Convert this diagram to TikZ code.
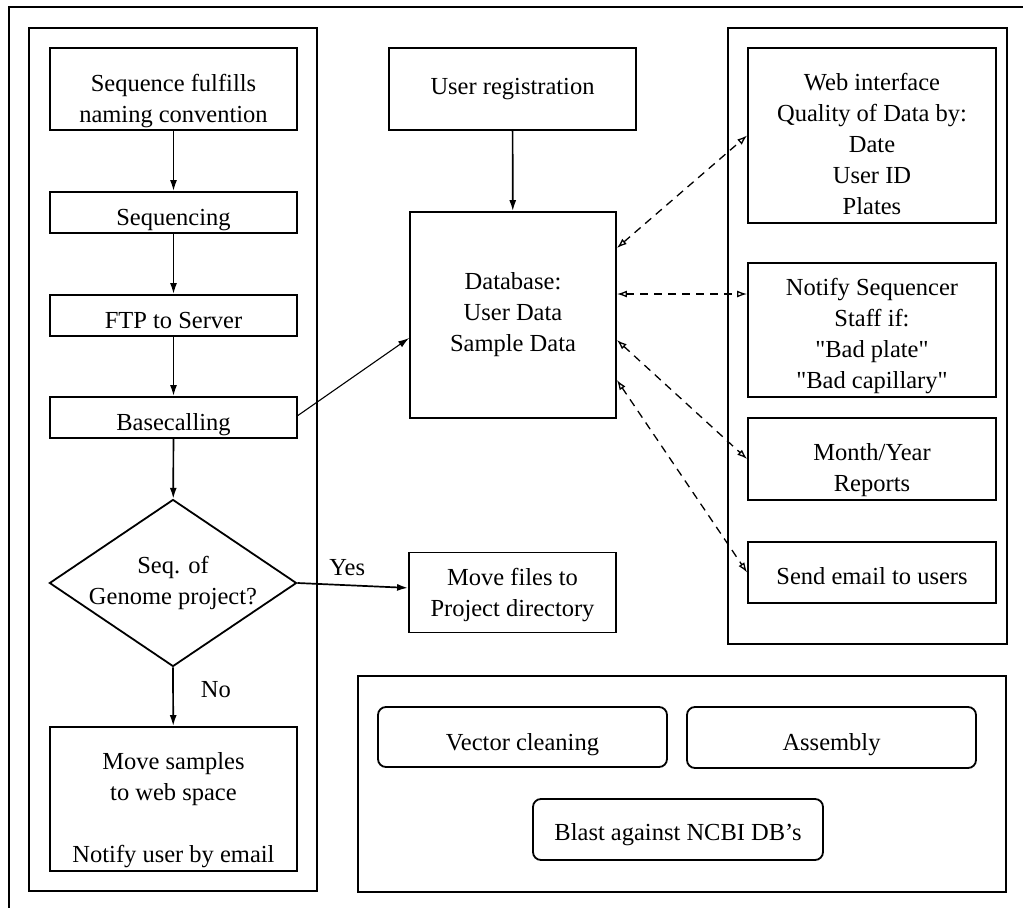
\documentclass[tikz,border=0pt]{standalone}
\usepackage{fontspec}
\setmainfont{Liberation Serif}
\usetikzlibrary{positioning, shapes.geometric, arrows.meta}

% strut that pushes a box text down by #1pt
\newcommand{\dropby}[1]{\rule{0pt}{\the\numexpr17+2*#1\relax pt}}

\tikzset{
  flowbox/.style={draw, line width=1.8pt, align=center, inner sep=2pt, font=\fontsize{24.5}{31}\selectfont},
  toolbox/.style={flowbox, rounded corners=8pt},
  panel/.style={draw, line width=1.8pt},
  flowarrow/.style={-{Latex[length=11pt,width=7pt]}, line width=1.7pt},
  linkarrow/.style={{Latex[open,length=10pt,width=7pt]}-{Latex[open,length=10pt,width=7pt]}, line width=1.3pt, dash pattern=on 8pt off 6pt},
  choice/.style={font=\fontsize{24.5}{31}\selectfont, inner sep=0pt}
}

\begin{document}
\begin{tikzpicture}[x=1pt, y=-1pt]
  \useasboundingbox (0,0) rectangle (1023,908);

  % Frame and panels
  \draw[line width=1.9pt] (1023,7) -- (9,7) -- (9,908);
  \draw[panel] (29,28) rectangle (317,891);
  \draw[panel] (728,28) rectangle (1007,644);
  \draw[panel] (358,676) rectangle (1006,892);

  % Sequencing pipeline
  \node[flowbox, minimum width=247pt, minimum height=82pt] (naming) at (173.5,89) {\dropby{12}Sequence fulfills\\naming convention};
  \node[flowbox, minimum width=247pt, minimum height=41pt] (sequencing) at (173.5,212.5) {\dropby{7}Sequencing};
  \node[flowbox, minimum width=247pt, minimum height=41pt] (ftp) at (173.5,315.5) {\dropby{5}FTP to Server};
  \node[flowbox, minimum width=247pt, minimum height=41pt] (basecalling) at (173.5,417.5) {\dropby{7}Basecalling};
  \node[flowbox, diamond, aspect=1.48, inner sep=0pt, minimum width=246pt, minimum height=165pt] (genome) at (173,583) {Seq. of\\Genome project?};
  \node[flowbox, minimum width=247pt, minimum height=144pt] (websamples) at (173.5,799) {\dropby{11}Move samples\\to web space\\[31pt]Notify user by email};
  \node[flowbox, minimum width=207pt, minimum height=80pt] (project) at (512.5,592.5) {\dropby{3}Move files to\\Project directory};

  % Database
  \node[flowbox, minimum width=247pt, minimum height=82pt] (register) at (512.5,89) {User registration};
  \node[flowbox, minimum width=206pt, minimum height=206pt] (db) at (513,315) {Database:\\User Data\\Sample Data};

  % Web interface
  \node[flowbox, minimum width=248pt, minimum height=175pt] (web) at (872,135.5) {\dropby{9}Web interface\\Quality of Data by:\\Date\\User ID\\Plates};
  \node[flowbox, minimum width=248pt, minimum height=134pt] (notify) at (872,330) {\dropby{6}Notify Sequencer\\Staff if:\\\textquotedbl Bad plate\textquotedbl\\\textquotedbl Bad capillary\textquotedbl};
  \node[flowbox, minimum width=248pt, minimum height=82pt] (reports) at (872,459) {\dropby{11}Month/Year\\Reports};
  \node[flowbox, minimum width=248pt, minimum height=61pt] (mail) at (872,572.5) {\dropby{4}Send email to users};

  % Analysis tools
  \node[toolbox, minimum width=289pt, minimum height=60pt] (vector) at (522.5,737) {\dropby{8}Vector cleaning};
  \node[toolbox, minimum width=289pt, minimum height=61pt] (assembly) at (831.5,737.5) {\dropby{7}Assembly};
  \node[toolbox, minimum width=290pt, minimum height=61pt] (blast) at (678,829.5) {\dropby{5}Blast against NCBI DB's};

  % Arrows
  \draw[flowarrow] (naming) -- (sequencing);
  \draw[flowarrow] (sequencing) -- (ftp);
  \draw[flowarrow] (ftp) -- (basecalling);
  \draw[flowarrow] (basecalling) -- (genome);
  \draw[flowarrow] (genome.south) -- node[choice, pos=0.38, right=27pt] {No} (websamples);
  \draw[flowarrow] (genome.east) -- node[choice, pos=0.45, above=9pt] {Yes} (project);
  \draw[flowarrow] (register) -- (db);
  \draw[flowarrow, line width=1.1pt] ([yshift=2pt]basecalling.east) -- ([yshift=-23pt]db.west);

  % Web links
  \draw[linkarrow] ([yshift=67pt]db.east) -- (web.west);
  \draw[linkarrow] ([yshift=21pt]db.east) -- ([yshift=21pt]db.east -| notify.west);
  \draw[linkarrow] ([yshift=-25pt]db.east) -- (reports.west);
  \draw[linkarrow] ([yshift=-65pt]db.east) -- (mail.west);
\end{tikzpicture}
\end{document}
